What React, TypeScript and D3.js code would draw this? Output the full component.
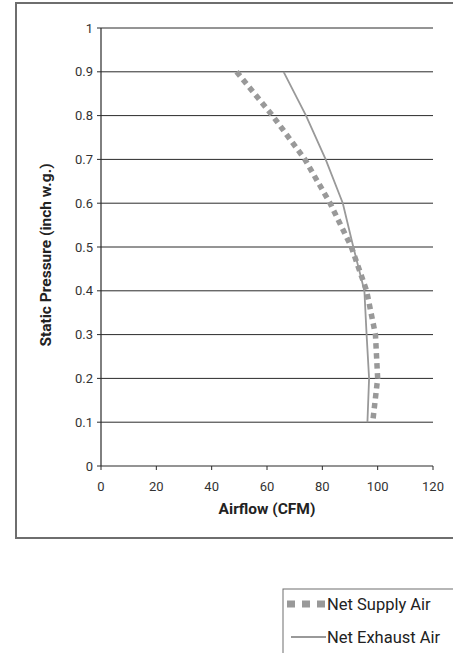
import React from "react";
import * as d3 from "d3";

const pressure = [0.9, 0.8, 0.7, 0.6, 0.5, 0.4, 0.3, 0.2, 0.1];
const supplyAir = [49, 62, 73.7, 82.8, 90.5, 96, 99.2, 100, 98.2];
const exhaustAir = [66, 74.1, 81.2, 87.4, 91.2, 95.2, 96, 96.9, 96.3];
const xTicks = [0, 20, 40, 60, 80, 100, 120];
const yTicks = [0, 0.1, 0.2, 0.3, 0.4, 0.5, 0.6, 0.7, 0.8, 0.9, 1];

const W = 453;
const H = 653;
const FONT = "Roboto, 'DejaVu Sans', sans-serif";

export default function App() {
  const x = d3.scaleLinear().domain([0, 120]).range([101, 433]);
  const y = d3.scaleLinear().domain([0, 1]).range([466, 28]);
  const line = d3
    .line<[number, number]>()
    .x((d) => x(d[0]))
    .y((d) => y(d[1]))
    .curve(d3.curveLinear);
  const sData = pressure.map((p, i) => [supplyAir[i], p] as [number, number]);
  const eData = pressure.map((p, i) => [exhaustAir[i], p] as [number, number]);

  return (
    <svg
      width={W}
      height={H}
      style={{ position: "absolute", left: 0, top: 0, background: "#fff" }}
      fontFamily={FONT}
    >
      <rect x={16} y={3} width={450} height={535} fill="none" stroke="#6e6e6e" strokeWidth={2} />
      {yTicks.map((t) => (
        <g key={"y" + t}>
          {t > 0 && (
            <line x1={x(0)} x2={x(120)} y1={y(t)} y2={y(t)} stroke="#2a2a2a" strokeWidth={1} />
          )}
          <line x1={x(0) - 4} x2={x(0)} y1={y(t)} y2={y(t)} stroke="#2a2a2a" strokeWidth={1} />
          <text x={93} y={y(t)} dy="0.36em" textAnchor="end" fontSize={13} fill="#333">
            {String(t)}
          </text>
        </g>
      ))}
      <line x1={x(0)} x2={x(0)} y1={y(1)} y2={y(0)} stroke="#2a2a2a" strokeWidth={1.2} />
      <line x1={x(0)} x2={x(120)} y1={y(0)} y2={y(0)} stroke="#2a2a2a" strokeWidth={1.2} />
      {xTicks.map((t) => (
        <g key={"x" + t}>
          <line x1={x(t)} x2={x(t)} y1={y(0)} y2={y(0) + 4} stroke="#2a2a2a" strokeWidth={1} />
          <text x={x(t)} y={490.5} textAnchor="middle" fontSize={13} fill="#333">
            {t}
          </text>
        </g>
      ))}
      <text x={267} y={514} textAnchor="middle" fontSize={15.5} fontWeight="bold" fill="#222">
        Airflow (CFM)
      </text>
      <text
        transform={`translate(51,255) rotate(-90)`}
        textAnchor="middle"
        fontSize={15.5}
        fontWeight="bold"
        fill="#222"
      >
        Static Pressure (inch w.g.)
      </text>
      <path d={line(eData) || ""} fill="none" stroke="#999" strokeWidth={1.8} />
      <path d={line(sData) || ""} fill="none" stroke="#999" strokeWidth={5.5} strokeDasharray="5.5 4.5" />
      <rect x={283} y={589} width={180} height={80} fill="#fff" stroke="#6e6e6e" strokeWidth={1} />
      <line x1={287} x2={326} y1={604} y2={604} stroke="#999" strokeWidth={7} strokeDasharray="8 7" />
      <text x={327} y={604} dy="0.36em" fontSize={16.5} fill="#222">
        Net Supply Air
      </text>
      <line x1={291} x2={326} y1={637} y2={637} stroke="#999" strokeWidth={1.8} />
      <text x={327} y={637} dy="0.36em" fontSize={16.5} fill="#222">
        Net Exhaust Air
      </text>
    </svg>
  );
}
